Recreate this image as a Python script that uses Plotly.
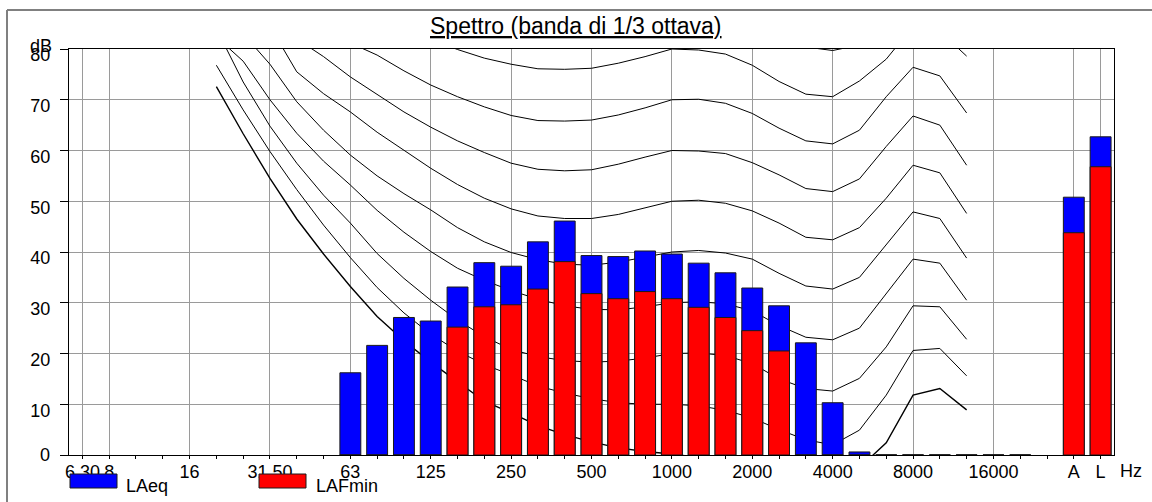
import plotly.graph_objects as go

# 1/3-octave band centres, a spacer slot, then the A and L totals
bands = ["6.3", "8", "10", "12.5", "16", "20", "25", "31.5", "40", "50",
         "63", "80", "100", "125", "160", "200", "250", "315", "400", "500",
         "630", "800", "1000", "1250", "1600", "2000", "2500", "3150", "4000",
         "5000", "6300", "8000", "10000", "12500", "16000", "20000", " ", "A", "L"]

tick_bands = ["6.3", "8", "16", "31.5", "63", "125", "250", "500", "1000",
              "2000", "4000", "8000", "16000", "A", "L"]
tick_text = ["6.30", "8", "16", "31.50", "63", "125", "250", "500", "1000",
             "2000", "4000", "8000", "16000", "A", "L"]

db_ticks = [0, 10, 20, 30, 40, 50, 60, 70, 80]

laeq = [None] * 10 + [16.2, 21.6, 27.1, 26.4, 33.1, 37.9, 37.2, 42.0, 46.1, 39.3,
                      39.1, 40.2, 39.6, 37.8, 35.9, 32.9, 29.4, 22.1, 10.3, 0.6,
                      0, 0, 0, 0, 0, 0, None, 50.8, 62.7]
lafmin = [None] * 10 + [0, 0, 0, 0, 25.2, 29.2, 29.6, 32.7, 38.1, 31.8,
                        30.8, 32.2, 30.8, 29.1, 27.1, 24.5, 20.5, 0, 0, 0,
                        0, 0, 0, 0, 0, 0, None, 43.8, 56.8]

# Equal-loudness contours, 20 Hz .. 12.5 kHz
contour_bands = bands[5:34]
contour_thr = [72.6, 63.3, 54.5, 46.5, 39.6, 33.2, 27.3, 22.5, 18.3, 14.5,
               10.6, 8.3, 5.8, 4.0, 2.6, 1.4, 0.7, 0.2, -0.5, -1.5,
               -3.0, -5.5, -7.5, -8.0, -2.5, 2.4, 11.8, 13.1, 8.9]
contour_10 = [76.8, 68.0, 59.8, 52.3, 45.3, 38.9, 33.0, 28.0, 23.8, 20.5,
              17.8, 15.8, 13.6, 12.2, 11.1, 10.3, 10.0, 10.0, 9.7, 8.8,
              7.3, 5.0, 3.0, 2.0, 4.9, 11.8, 20.6, 21.0, 15.6]
contour_20 = [84.0, 73.5, 64.8, 57.5, 51.2, 45.7, 39.7, 34.8, 30.5, 26.6,
              23.3, 20.8, 19.4, 18.6, 18.3, 18.5, 19.1, 20.0, 20.1, 19.6,
              18.0, 15.0, 13.1, 12.6, 15.1, 21.3, 29.4, 29.2, 22.8]
contour_30 = [82.4, 77.6, 70.0, 63.4, 57.9, 53.2, 48.2, 43.9, 40.1, 36.8,
              34.4, 32.4, 30.7, 29.4, 28.7, 28.6, 29.2, 30.0, 30.2, 29.8,
              28.4, 25.5, 23.2, 22.7, 25.0, 31.9, 38.6, 37.8, 30.5]
contour_40 = [89.0, 83.0, 77.0, 69.6, 64.0, 59.1, 55.0, 51.5, 48.3, 44.8,
              42.0, 39.9, 38.5, 37.6, 37.4, 38.0, 39.0, 40.0, 40.3, 39.8,
              38.6, 35.8, 33.3, 32.7, 35.0, 41.5, 47.9, 46.6, 38.8]
contour_50 = [95.0, 90.0, 84.5, 75.5, 71.2, 67.6, 63.6, 60.0, 56.5, 53.3,
              50.6, 48.5, 47.1, 46.6, 46.6, 47.4, 48.7, 50.0, 50.2, 49.6,
              48.1, 45.7, 42.9, 42.4, 44.8, 50.6, 57.1, 55.6, 47.6]
contour_60 = [100.0, 95.0, 90.0, 82.0, 78.5, 74.5, 71.0, 67.6, 64.6, 61.9,
              59.6, 57.5, 56.3, 56.0, 56.2, 57.3, 58.7, 60.0, 59.9, 59.4,
              57.6, 55.2, 52.5, 51.9, 54.4, 60.8, 66.8, 65.0, 57.1]
contour_70 = [105.0, 100.0, 95.0, 90.0, 84.0, 81.2, 78.8, 75.7, 72.9, 70.6,
              68.6, 66.9, 65.9, 65.8, 66.0, 67.0, 68.4, 70.0, 70.1, 69.3,
              67.3, 64.4, 61.9, 61.3, 64.0, 70.6, 76.4, 74.7, 67.4]
contour_80 = [110.0, 105.0, 100.0, 96.0, 92.0, 89.0, 86.0, 84.0, 82.0, 79.9,
              78.2, 77.0, 76.1, 76.0, 76.2, 77.2, 78.5, 80.0, 79.8, 79.0,
              76.8, 73.6, 71.1, 70.6, 73.7, 78.0, 84.5, 83.5, 78.6]
contour_90 = [115.0, 110.0, 106.0, 102.0, 99.0, 96.0, 94.0, 92.0, 90.0, 88.5,
              87.5, 86.5, 86.0, 86.0, 86.0, 87.0, 88.5, 90.0, 89.8, 89.0,
              86.5, 83.2, 80.4, 79.7, 80.8, 86.0, 93.0, 92.0, 88.0]

contours = [contour_thr, contour_10, contour_20, contour_30, contour_40,
            contour_50, contour_60, contour_70, contour_80, contour_90]

FONT = "Arial, Liberation Sans, sans-serif"
L, R, T, B = 69, 38, 49, 47
W, H = 1152, 502
PW, PH = W - L - R, H - T - B


def px(x):
    return (x - L) / PW


def py(y):
    return (H - B - y) / PH


fig = go.Figure()

# contour family on the base axes (drawn underneath the bars)
for k, vals in enumerate(contours):
    fig.add_trace(go.Scatter(
        x=contour_bands, y=vals, mode="lines", xaxis="x", yaxis="y",
        line=dict(color="black", width=1.4 if k == 0 else 1.0),
        hoverinfo="skip", showlegend=False))

bar_line = dict(color="#1a1a1a", width=1)
fig.add_trace(go.Bar(x=bands, y=laeq, name="LAeq", xaxis="x2", yaxis="y2",
                     marker=dict(color="#0000FF", line=bar_line),
                     width=0.78, showlegend=False))
fig.add_trace(go.Bar(x=bands, y=lafmin, name="LAFmin", xaxis="x2", yaxis="y2",
                     marker=dict(color="#FF0000", line=bar_line),
                     width=0.78, showlegend=False))

cat_axis = dict(type="category", categoryorder="array", categoryarray=bands,
                range=[-0.5, len(bands) - 0.5])

fig.update_layout(
    width=W, height=H,
    margin=dict(l=L, r=R, t=T, b=B, pad=0),
    paper_bgcolor="white", plot_bgcolor="white",
    barmode="overlay",
    font=dict(family=FONT, size=18, color="black"),
    xaxis=dict(**cat_axis, tickmode="array", tickvals=tick_bands,
               ticktext=tick_text, ticks="", showgrid=True,
               gridcolor="#9a9a9a", gridwidth=1, showline=True,
               linecolor="black", linewidth=1, mirror=True,
               tickfont=dict(size=18), ticklabelstandoff=0,
               zeroline=False),
    yaxis=dict(range=[0, 80], tickmode="array", tickvals=db_ticks,
               ticktext=[""] + [str(v) for v in db_ticks[1:]],
               ticks="outside", ticklen=8, tickcolor="black",
               showgrid=True, gridcolor="#9a9a9a", gridwidth=1,
               showline=True, linecolor="black", linewidth=1, mirror=True,
               tickfont=dict(size=18), ticklabelstandoff=6,
               ticklabelshift=6, zeroline=False),
    xaxis2=dict(**cat_axis, overlaying="x", tickmode="array", tickvals=bands,
                ticks="outside", ticklen=3, tickcolor="black",
                showticklabels=False, showgrid=False, showline=True,
                linecolor="black", linewidth=1, zeroline=False),
    yaxis2=dict(range=[0, 80], overlaying="y", visible=False),
)

annotations = [
    dict(text="<u>Spettro (banda di 1/3 ottava)</u>", x=px(576), y=py(26),
         xanchor="center", yanchor="middle", font=dict(size=23)),
    dict(text="dB", x=px(41), y=py(46), xanchor="center", yanchor="middle",
         font=dict(size=18)),
    dict(text="Hz", x=px(1131), y=py(471), xanchor="center", yanchor="middle",
         font=dict(size=18)),
    dict(text="LAeq", x=px(124), y=py(486), xanchor="left", yanchor="middle",
         font=dict(size=18)),
    dict(text="LAFmin", x=px(314), y=py(486), xanchor="left", yanchor="middle",
         font=dict(size=18)),
]
for a in annotations:
    a.update(xref="paper", yref="paper", showarrow=False)
# the baseline label sits on its own line
annotations.append(dict(text=str(db_ticks[0]), xref="paper", yref="y",
                        x=px(52), y=db_ticks[0], xanchor="right",
                        yanchor="middle", showarrow=False,
                        font=dict(size=18)))
fig.update_layout(annotations=annotations)

shapes = [
    # legend swatches
    dict(type="rect", x0=px(70), x1=px(117), y0=py(488), y1=py(474),
         fillcolor="#0000FF", line=dict(color="#1a1a1a", width=1)),
    dict(type="rect", x0=px(259), x1=px(306), y0=py(488), y1=py(474),
         fillcolor="#FF0000", line=dict(color="#1a1a1a", width=1)),
    # panel frame
    dict(type="line", x0=px(7), x1=px(1153), y0=py(10), y1=py(10),
         line=dict(color="#808080", width=2)),
    dict(type="line", x0=px(7), x1=px(7), y0=py(10), y1=py(503),
         line=dict(color="#808080", width=2)),
]
for s in shapes:
    s.update(xref="paper", yref="paper", layer="above")
fig.update_layout(shapes=shapes)

fig.write_html("out.html")
